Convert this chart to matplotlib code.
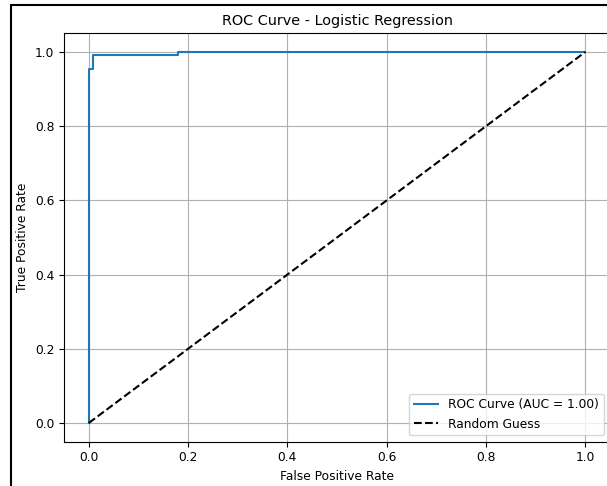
import matplotlib.pyplot as plt
from matplotlib.patches import Rectangle

# ROC points
fpr = [0.0, 0.0, 0.009, 0.009, 0.18, 0.18, 1.0]
tpr = [0.0, 0.955, 0.955, 0.993, 0.993, 1.0, 1.0]
diag = [0.0, 1.0]
auc_label = "ROC Curve (AUC = 1.00)"

plt.rcParams['font.size'] = 8.8
plt.rcParams['axes.titlesize'] = 10.4

W, H = 607, 486
fig = plt.figure(figsize=(W / 100, H / 100), dpi=100)

# axes spans a bit past the right edge (reference is a cropped screenshot)
ax = fig.add_axes([64 / W, (H - 441.5) / H, (610 - 64) / W, (441.5 - 33.5) / H])
ax.plot(fpr, tpr, label=auc_label)
ax.plot(diag, diag, 'k--', label="Random Guess")
ax.set_xlim(-0.05, 1.05)
ax.set_ylim(-0.05, 1.05)
ax.set_xlabel("False Positive Rate")
ax.set_ylabel("True Positive Rate")
ax.set_title("ROC Curve - Logistic Regression")
ax.legend(loc="lower right")
ax.grid(True)

# black frame of the screenshot
fig.patches.append(Rectangle((11 / W, -0.1), 1.2, 1 - 5 / H + 0.1,
                             transform=fig.transFigure, fill=False,
                             edgecolor='black', linewidth=1.5))

fig.savefig("out.png", dpi=100)
